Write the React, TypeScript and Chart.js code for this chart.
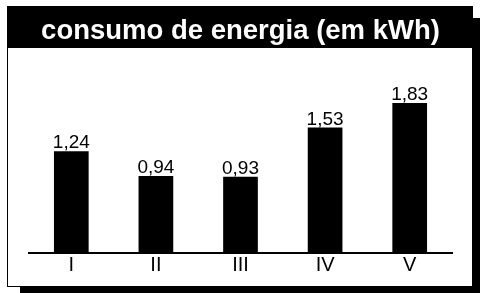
import React, { useEffect, useRef } from "react";
import { Chart, registerables } from "chart.js";

Chart.register(...registerables);

const titleText = "consumo de energia (em kWh)";
const categories = ["I", "II", "III", "IV", "V"];
const consumption = [1.24, 0.94, 0.93, 1.53, 1.83];
const valueLabels = ["1,24", "0,94", "0,93", "1,53", "1,83"];

const FONT = '"Liberation Sans", Arial, Helvetica, sans-serif';

const framePlugin = {
  id: "frame",
  beforeDraw(chart: any) {
    const ctx = chart.ctx;
    ctx.save();
    // shadow
    ctx.fillStyle = "#000";
    ctx.fillRect(20, 18, 460, 275);
    // box
    ctx.fillStyle = "#fff";
    ctx.fillRect(7, 6, 466, 281);
    ctx.strokeStyle = "#000";
    ctx.lineWidth = 1;
    ctx.strokeRect(7.5, 6.5, 465, 280);
    // title bar
    ctx.fillStyle = "#000";
    ctx.fillRect(7, 6, 466, 42);
    ctx.restore();
  },
};

const valuePlugin = {
  id: "values",
  afterDatasetsDraw(chart: any) {
    const ctx = chart.ctx;
    const meta = chart.getDatasetMeta(0);
    ctx.save();
    ctx.fillStyle = "#000";
    ctx.font = `19px ${FONT}`;
    ctx.textAlign = "center";
    ctx.textBaseline = "alphabetic";
    meta.data.forEach((bar: any, i: number) => {
      ctx.fillText(valueLabels[i], bar.x, bar.y - 3);
    });
    ctx.restore();
  },
};

export default function App() {
  const ref = useRef<HTMLCanvasElement | null>(null);
  useEffect(() => {
    if (!ref.current) return;
    const chart = new Chart(ref.current, {
      type: "bar",
      data: {
        labels: categories,
        datasets: [
          {
            data: consumption,
            backgroundColor: "#000",
            borderWidth: 0,
            barPercentage: 0.41,
            categoryPercentage: 1,
          },
        ],
      },
      options: {
        responsive: false,
        animation: false,
        devicePixelRatio: 1,
        layout: { padding: { top: 6, left: 29, right: 28, bottom: 16 } },
        plugins: {
          legend: { display: false },
          tooltip: { enabled: false },
          title: {
            display: true,
            text: titleText,
            color: "#fff",
            font: { family: FONT, size: 27.5, weight: "bold", lineHeight: 1.2 },
            padding: { top: 9, bottom: 0 },
          },
        },
        scales: {
          x: {
            grid: { display: false, drawTicks: false },
            border: { display: true, color: "#000", width: 2 },
            ticks: { color: "#000", font: { family: FONT, size: 20 }, padding: 0 },
          },
          y: {
            display: false,
            min: 0,
            max: 2.5,
          },
        },
      },
      plugins: [framePlugin, valuePlugin],
    });
    return () => chart.destroy();
  }, []);
  return (
    <div style={{ position: "absolute", left: 0, top: 0, width: 480, height: 293 }}>
      <canvas ref={ref} width={480} height={293} />
    </div>
  );
}
